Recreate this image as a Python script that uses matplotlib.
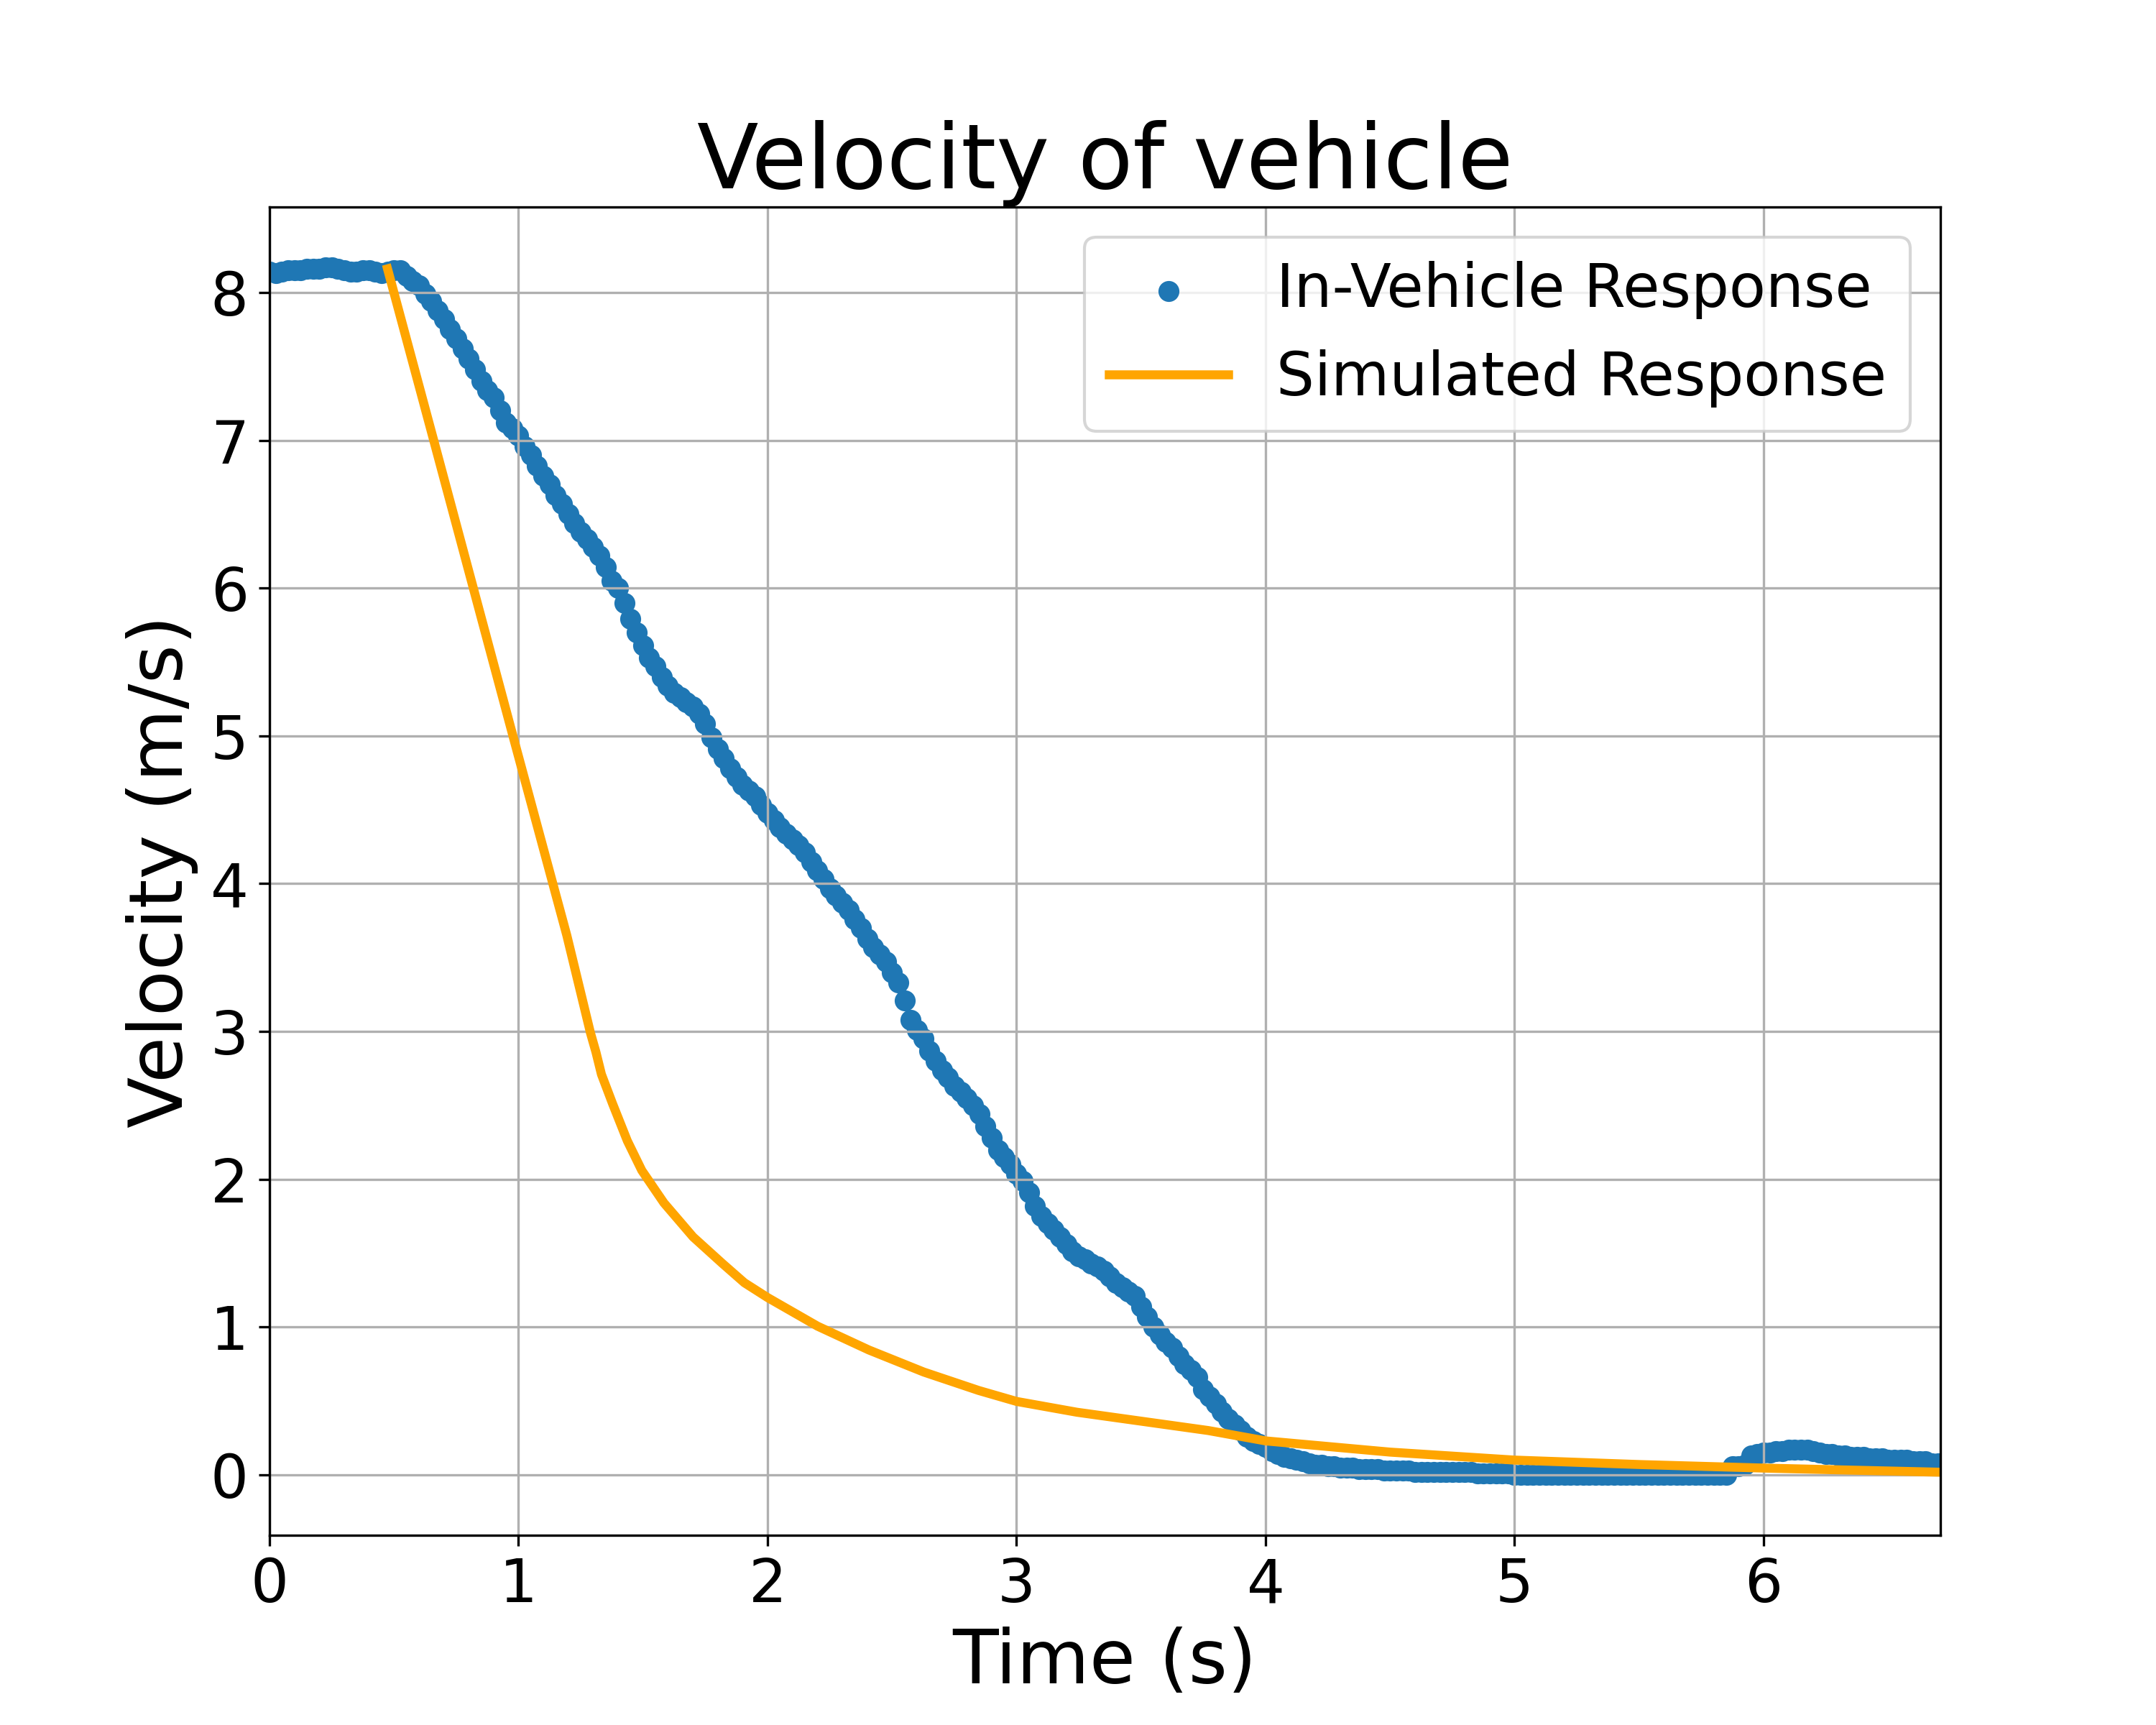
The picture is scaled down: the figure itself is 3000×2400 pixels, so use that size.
import matplotlib
matplotlib.use("Agg")
import matplotlib.pyplot as plt
import numpy as np

# in-vehicle measured velocity (m/s), one reading every 0.025 s from t = 0
dt_meas = 0.025
v_meas = [
    8.14, 8.13, 8.14, 8.15, 8.15, 8.15, 8.16, 8.16, 8.16, 8.17,
    8.17, 8.16, 8.15, 8.14, 8.14, 8.15, 8.15, 8.14, 8.13, 8.14,   # 0.0 - 0.475
    8.15, 8.15, 8.11, 8.08, 8.05, 7.99, 7.94, 7.88, 7.82, 7.75,
    7.69, 7.62, 7.55, 7.48, 7.40, 7.34, 7.29, 7.20, 7.12, 7.08,   # 0.5 - 0.975
    7.03, 6.96, 6.90, 6.83, 6.76, 6.70, 6.63, 6.57, 6.50, 6.44,
    6.38, 6.33, 6.28, 6.22, 6.14, 6.05, 6.00, 5.90, 5.79, 5.70,   # 1.0 - 1.475
    5.61, 5.53, 5.47, 5.40, 5.34, 5.29, 5.26, 5.23, 5.20, 5.15,
    5.08, 4.99, 4.91, 4.85, 4.78, 4.72, 4.67, 4.63, 4.59, 4.53,   # 1.5 - 1.975
    4.48, 4.43, 4.38, 4.34, 4.30, 4.26, 4.21, 4.15, 4.09, 4.03,
    3.97, 3.92, 3.87, 3.82, 3.76, 3.70, 3.63, 3.57, 3.52, 3.47,   # 2.0 - 2.475
    3.40, 3.33, 3.21, 3.08, 3.01, 2.95, 2.87, 2.80, 2.74, 2.69,
    2.63, 2.59, 2.55, 2.50, 2.44, 2.36, 2.28, 2.20, 2.15, 2.10,   # 2.5 - 2.975
    2.04, 1.99, 1.91, 1.82, 1.75, 1.70, 1.66, 1.61, 1.56, 1.51,
    1.48, 1.46, 1.43, 1.41, 1.38, 1.34, 1.30, 1.27, 1.24, 1.21,   # 3.0 - 3.475
    1.14, 1.07, 1.00, 0.95, 0.90, 0.86, 0.80, 0.75, 0.71, 0.66,
    0.58, 0.53, 0.48, 0.43, 0.38, 0.34, 0.30, 0.26, 0.23, 0.21,   # 3.5 - 3.975
    0.19, 0.16, 0.14, 0.12, 0.11, 0.10, 0.09, 0.08, 0.07, 0.07,
    0.06, 0.06, 0.05, 0.05, 0.05, 0.04, 0.04, 0.04, 0.04, 0.03,   # 4.0 - 4.475
    0.03, 0.03, 0.03, 0.03, 0.02, 0.02, 0.02, 0.02, 0.02, 0.02,
    0.02, 0.02, 0.02, 0.02, 0.01, 0.01, 0.01, 0.01, 0.01, 0.01,   # 4.5 - 4.975
    0.00, 0.00, 0.00, 0.00, 0.00, 0.00, 0.00, 0.00, 0.00, 0.00,
    0.00, 0.00, 0.00, 0.00, 0.00, 0.00, 0.00, 0.00, 0.00, 0.00,   # 5.0 - 5.475
    0.00, 0.00, 0.00, 0.00, 0.00, 0.00, 0.00, 0.00, 0.00, 0.00,
    0.00, 0.00, 0.00, 0.00, 0.00, 0.06, 0.06, 0.07, 0.13, 0.14,   # 5.5 - 5.975
    0.15, 0.15, 0.16, 0.16, 0.17, 0.17, 0.17, 0.17, 0.16, 0.15,
    0.14, 0.14, 0.13, 0.13, 0.12, 0.12, 0.12, 0.11, 0.11, 0.11,   # 6.0 - 6.475
    0.10, 0.10, 0.10, 0.10, 0.09, 0.09, 0.09, 0.08, 0.08,         # 6.5 - 6.7
]
t_meas = np.arange(len(v_meas)) * dt_meas

# simulated response
t_sim = [0.474, 0.661, 0.976, 1.194, 1.289, 1.311, 1.333, 1.378, 1.437,
         1.495, 1.584, 1.701, 1.819, 1.907, 2.000, 2.201, 2.407, 2.627,
         2.848, 3.000, 3.242, 3.472, 3.770, 4.000, 4.500, 5.000, 5.500,
         6.000, 6.710]
v_sim = [8.16, 6.99, 5.01, 3.65, 2.99, 2.86, 2.71, 2.51, 2.26,
         2.06, 1.84, 1.61, 1.43, 1.30, 1.20, 1.006, 0.845, 0.696,
         0.571, 0.497, 0.424, 0.37, 0.30, 0.23, 0.154, 0.10, 0.07,
         0.046, 0.018]

plt.figure(figsize=(10, 8), dpi=300)
plt.scatter(t_meas, v_meas, color='#1f77b4', label='In-Vehicle Response')
plt.plot(t_sim, v_sim, color='orange', linewidth=3, label='Simulated Response')
plt.title('Velocity of vehicle', fontsize=30)
plt.xlabel('Time (s)', fontsize=25)
plt.ylabel('Velocity (m/s)', fontsize=25)
plt.xticks(fontsize=20)
plt.yticks(fontsize=20)
plt.xlim(0, 6.71)
plt.grid(True)
plt.legend(fontsize=20, loc='upper right')
plt.savefig('out.png', dpi=300)
